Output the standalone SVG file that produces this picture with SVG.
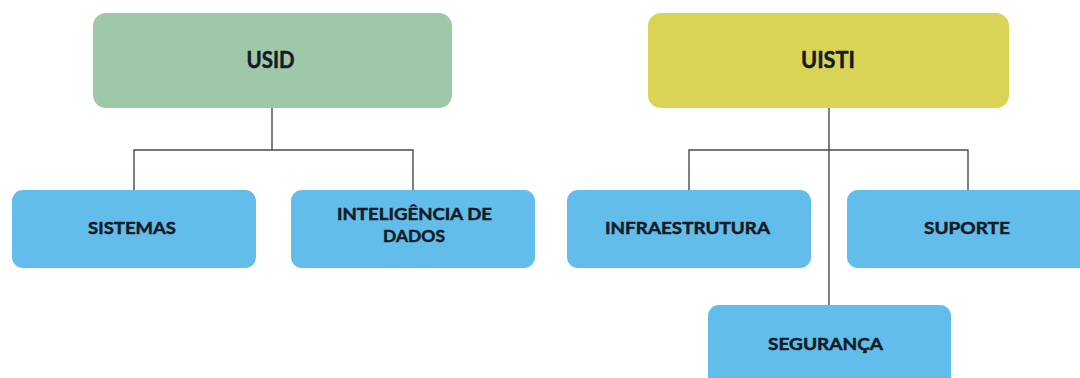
<svg xmlns="http://www.w3.org/2000/svg" width="1080" height="378" viewBox="0 0 1080 378">
  <style>
    .lbl { font-family: Lato, "Liberation Sans", sans-serif; font-weight: bold; fill: #161a24; stroke: #161a24; stroke-width: 0.5; text-anchor: middle; }
    .big { font-size: 23px; }
    .small { font-size: 17.5px; }
    .blue { fill: #62bdea; }
    .conn { fill: none; stroke: #4a4a4a; stroke-width: 1.4; }
  </style>
  <rect width="1080" height="378" fill="#ffffff"/>
  <g id="connectors">
    <path class="conn" d="M272,108 V150 M134,190 V150 H413 V190"/>
    <path class="conn" d="M829,108 V305 M689,190 V150 H968 V190"/>
  </g>
  <g id="usid">
    <rect x="93" y="13" width="359" height="95" rx="13" fill="#9fc8a9"/>
    <text class="lbl big" x="270.5" y="68" textLength="48" lengthAdjust="spacingAndGlyphs">USID</text>
  </g>
  <g id="uisti">
    <rect x="648" y="13" width="361" height="95" rx="13" fill="#d9d456"/>
    <text class="lbl big" x="828" y="68" textLength="54" lengthAdjust="spacingAndGlyphs">UISTI</text>
  </g>
  <g id="sistemas">
    <rect class="blue" x="12" y="190" width="244" height="78" rx="11"/>
    <text class="lbl small" x="132" y="234" textLength="88" lengthAdjust="spacingAndGlyphs">SISTEMAS</text>
  </g>
  <g id="inteligencia">
    <rect class="blue" x="291" y="190" width="244" height="78" rx="11"/>
    <text class="lbl small" x="414.5" y="220" textLength="155" lengthAdjust="spacingAndGlyphs">INTELIGÊNCIA DE</text>
    <text class="lbl small" x="414" y="242" textLength="62" lengthAdjust="spacingAndGlyphs">DADOS</text>
  </g>
  <g id="infraestrutura">
    <rect class="blue" x="567" y="190" width="244" height="78" rx="11"/>
    <text class="lbl small" x="687.5" y="234" textLength="165" lengthAdjust="spacingAndGlyphs">INFRAESTRUTURA</text>
  </g>
  <g id="suporte">
    <rect class="blue" x="847" y="190" width="244" height="78" rx="11"/>
    <text class="lbl small" x="967" y="234" textLength="86" lengthAdjust="spacingAndGlyphs">SUPORTE</text>
  </g>
  <g id="seguranca">
    <rect class="blue" x="708" y="305" width="243" height="85" rx="11"/>
    <text class="lbl small" x="825.5" y="350" textLength="115" lengthAdjust="spacingAndGlyphs">SEGURANÇA</text>
  </g>
</svg>
